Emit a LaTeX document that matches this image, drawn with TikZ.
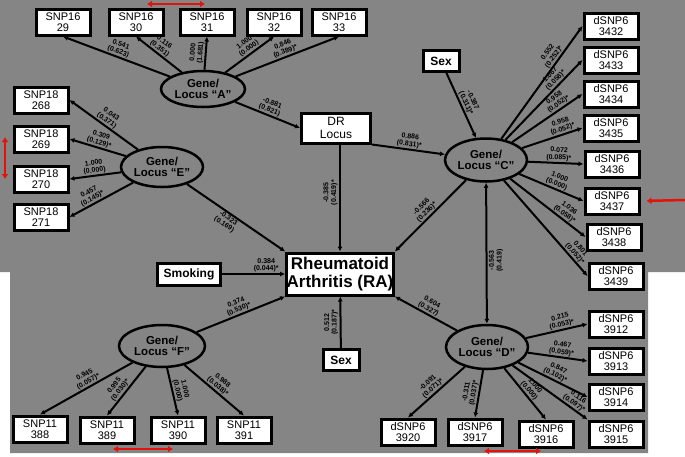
\documentclass[tikz,border=0pt]{standalone}
\usepackage{fontspec}
\setmainfont{Liberation Sans}
\usetikzlibrary{arrows.meta,positioning,shapes.geometric}
\definecolor{panel}{HTML}{858585}
\definecolor{redmark}{HTML}{E3120B}
\tikzset{
  snp/.style={draw=black,line width=3pt,fill=white,minimum width=54pt,minimum height=26pt,
    inner sep=0pt,align=center,font=\fontsize{11}{10.5}\selectfont},
  locus/.style={ellipse,draw=black,line width=2.5pt,fill=panel,minimum width=82pt,
    minimum height=40pt,inner sep=0pt,align=center,font=\fontsize{11.5}{11}\selectfont\bfseries},
  covar/.style={snp,minimum width=36pt,minimum height=21pt,font=\fontsize{12}{12}\selectfont\bfseries},
  outcome/.style={snp,minimum width=104pt,minimum height=42pt,font=\fontsize{17}{18}\selectfont\bfseries},
  effect/.style={-{Latex[length=5pt,width=5pt]},line width=2pt,draw=black},
  twoway/.style={{Latex[length=5pt,width=5pt]}-{Latex[length=5pt,width=5pt]},line width=2pt,draw=black},
  coef/.style={font=\fontsize{7}{7.6}\selectfont\bfseries,align=center,inner sep=0.8pt,sloped},
  coefv/.style={font=\fontsize{7}{7.6}\selectfont\bfseries,align=center,inner sep=1.5pt,rotate=90},
  redpair/.style={draw=redmark,line width=2.5pt,{Latex[length=5pt,width=7pt]}-{Latex[length=5pt,width=7pt]}}
}

\begin{document}
\begin{tikzpicture}[x=1pt,y=-1pt]
  \useasboundingbox (0,0) rectangle (685,456);
  \fill[panel] (0,0) -- (685,0) -- (685,272) -- (648,272) -- (648,453) -- (10,453) -- (10,272) -- (0,272) -- cycle;

  % latent loci and outcome
  \node[locus,minimum width=84pt,minimum height=36pt] (locusA) at (203,89) {Gene/\\Locus “A”};
  \node[locus] (locusE) at (162,167) {Gene/\\Locus “E”};
  \node[locus,minimum height=43pt] (locusC) at (486,160) {Gene/\\Locus “C”};
  \node[locus,minimum width=86pt,minimum height=42pt] (locusF) at (162,346) {Gene/\\Locus “F”};
  \node[locus,minimum height=44pt] (locusD) at (487,347) {Gene/\\Locus “D”};
  \node[outcome] (ra) at (340,274) {Rheumatoid\\Arthritis (RA)};
  \node[snp,minimum width=69pt,minimum height=30pt,font=\fontsize{12}{12.5}\selectfont] (dr) at (336,128) {DR\\Locus};
  \node[covar] (sexC) at (441,61) {Sex};
  \node[covar] (sexRA) at (341,360) {Sex};
  \node[covar,minimum width=63pt,minimum height=22pt] (smoking) at (189,274) {Smoking};

  % markers
  \node[snp] (s1629) at (63,22) {SNP16\\29};
  \node[snp] (s1630) at (136,22) {SNP16\\30};
  \node[snp] (s1631) at (207,22) {SNP16\\31};
  \node[snp] (s1632) at (274,22) {SNP16\\32};
  \node[snp] (s1633) at (339,22) {SNP16\\33};
  \node[snp] (s18268) at (41,100) {SNP18\\268};
  \node[snp] (s18269) at (41,139) {SNP18\\269};
  \node[snp] (s18270) at (41,179) {SNP18\\270};
  \node[snp] (s18271) at (41,217) {SNP18\\271};
  \node[snp] (d3432) at (611,26) {dSNP6\\3432};
  \node[snp] (d3433) at (611,60) {dSNP6\\3433};
  \node[snp] (d3434) at (611,94) {dSNP6\\3434};
  \node[snp] (d3435) at (611,128) {dSNP6\\3435};
  \node[snp] (d3436) at (612,164) {dSNP6\\3436};
  \node[snp] (d3437) at (612,201) {dSNP6\\3437};
  \node[snp] (d3438) at (614,237) {dSNP6\\3438};
  \node[snp] (d3439) at (616,276) {dSNP6\\3439};
  \node[snp] (d3912) at (616,324) {dSNP6\\3912};
  \node[snp] (d3913) at (616,361) {dSNP6\\3913};
  \node[snp] (d3914) at (616,397) {dSNP6\\3914};
  \node[snp] (d3915) at (616,434) {dSNP6\\3915};
  \node[snp] (d3920) at (408,432) {dSNP6\\3920};
  \node[snp] (d3917) at (475,432) {dSNP6\\3917};
  \node[snp] (d3916) at (546,434) {dSNP6\\3916};
  \node[snp] (s11388) at (40,429) {SNP11\\388};
  \node[snp] (s11389) at (107,430) {SNP11\\389};
  \node[snp] (s11390) at (178,430) {SNP11\\390};
  \node[snp] (s11391) at (244,430) {SNP11\\391};

  % locus A
  \draw[effect] (locusA) -- node[coef,above]{0.541\\(0.623)} (s1629.south);
  \draw[effect] (locusA) -- node[coef,above,pos=.55]{0.116\\(0.351)} (s1630.south);
  \draw[effect] (locusA) -- node[coef,above]{0.000\\(1.681)} (s1631.south);
  \draw[effect] (locusA) -- node[coef,above,pos=.55]{1.000\\(0.000)} (s1632.south);
  \draw[effect] (locusA) -- node[coef,above]{0.846\\(0.389)*} (s1633.south);
  \draw[effect] (locusA) -- node[coef,above]{-0.881\\(0.821)} (dr.west);
  % locus E
  \draw[effect] (locusE) -- node[coef,above]{0.043\\(0.371)} (s18268.east);
  \draw[effect] (locusE) -- node[coef,above]{0.309\\(0.129)*} (s18269.east);
  \draw[effect] (locusE) -- node[coef,above]{1.000\\(0.000)} (s18270.east);
  \draw[effect] (locusE) -- node[coef,above,pos=.6]{0.457\\(0.145)*} (s18271.east);
  \draw[effect] (locusE) -- node[coef,below,pos=.45]{-0.323\\(0.169)} (ra.north west);
  % DR locus and sex
  \draw[effect] (dr.south east) -- node[coef,above]{0.886\\(0.831)*} (locusC);
  \draw[effect] (dr.south -| ra.north) -- node[coefv,above,pos=.45]{-0.385\\(0.419)*} (ra.north);
  \draw[effect] (sexC) -- node[coef,above]{-0.387\\(0.311)*} (locusC);
  % locus C
  \draw[effect] (locusC) -- node[coef,above,pos=.7]{0.552\\(0.252)*} (d3432.west);
  \draw[effect] (locusC) -- node[coef,above,pos=.7]{1.067\\(0.058)*} (d3433.west);
  \draw[effect] (locusC) -- node[coef,above,pos=.7]{0.958\\(0.052)*} (d3434.west);
  \draw[effect] (locusC) -- node[coef,above,pos=.7]{0.958\\(0.052)*} (d3435.west);
  \draw[effect] (locusC) -- node[coef,above,pos=.55]{0.072\\(0.085)*} (d3436.west);
  \draw[effect] (locusC) -- node[coef,above,pos=.55]{1.000\\(0.000)} (d3437.west);
  \draw[effect] (locusC) -- node[coef,above,pos=.68]{1.036\\(0.058)*} (d3438.west);
  \draw[effect] (locusC) -- node[coef,above,pos=.8]{0.801\\(0.052)*} (d3439.west);
  \draw[effect] (locusC) -- node[coef,above]{-0.566\\(0.236)*} (ra.north east);
  \draw[twoway] (locusC) -- node[coefv,below,pos=.55]{-0.563\\(0.419)} (locusD);
  % covariates and locus F
  \draw[effect] (smoking) -- node[coef,above,pos=.7]{0.384\\(0.044)*} (ra.west);
  \draw[effect] (sexRA) -- node[coefv,above]{0.512\\(0.187)*} (ra);
  \draw[effect] (locusF) -- node[coef,above]{0.374\\(0.530)*} (ra.south west);
  \draw[effect] (locusF) -- node[coef,above,pos=.45]{0.945\\(0.057)*} (s11388.north);
  \draw[effect] (locusF) -- node[coef,above,pos=.55]{0.995\\(0.030)*} (s11389.north);
  \draw[effect] (locusF) -- node[coef,above]{1.000\\(0.000)} (s11390.north);
  \draw[effect] (locusF) -- node[coef,above]{0.988\\(0.038)*} (s11391.north);
  % locus D
  \draw[effect] (locusD) -- node[coef,above]{0.604\\(0.327)} (ra.south east);
  \draw[effect] (locusD) -- node[coef,above,pos=.6]{0.215\\(0.053)*} (d3912.west);
  \draw[effect] (locusD) -- node[coef,above,pos=.55]{0.467\\(0.059)*} (d3913.west);
  \draw[effect] (locusD) -- node[coef,above,pos=.5]{0.847\\(0.102)*} (d3914.west);
  \draw[effect] (locusD) -- node[coef,above,pos=.78]{0.116\\(0.097)*} (d3915.north west);
  \draw[effect] (locusD) -- node[coef,above]{-0.091\\(0.071)*} (d3920.north);
  \draw[effect] (locusD) -- node[coef,above]{-0.311\\(0.037)*} (d3917.north);
  \draw[effect] (locusD) -- node[coef,above]{1.000\\(0.000)} (d3916.north);

  % red highlights
  \coordinate (hiTopL) at (147,4);
  \coordinate (hiTopR) at (205,4);
  \coordinate (hiLeftT) at (5,137);
  \coordinate (hiLeftB) at (5,179);
  \coordinate (hiRight) at (685,200);
  \coordinate (hiBotL) at (113,449);
  \coordinate (hiBotR) at (173,449);
  \coordinate (hiDL) at (484,451);
  \coordinate (hiDR) at (541,451);
  \draw[redpair] (hiTopL) -- (hiTopR);
  \draw[redpair] (hiLeftT) -- (hiLeftB);
  \draw[redpair] (hiBotL) -- (hiBotR);
  \draw[redpair] (hiDL) -- (hiDR);
  \draw[redpair,arrows=-{Latex[length=5pt,width=7pt]},shorten >=6pt] (hiRight) -- (d3437.east);
\end{tikzpicture}
\end{document}
